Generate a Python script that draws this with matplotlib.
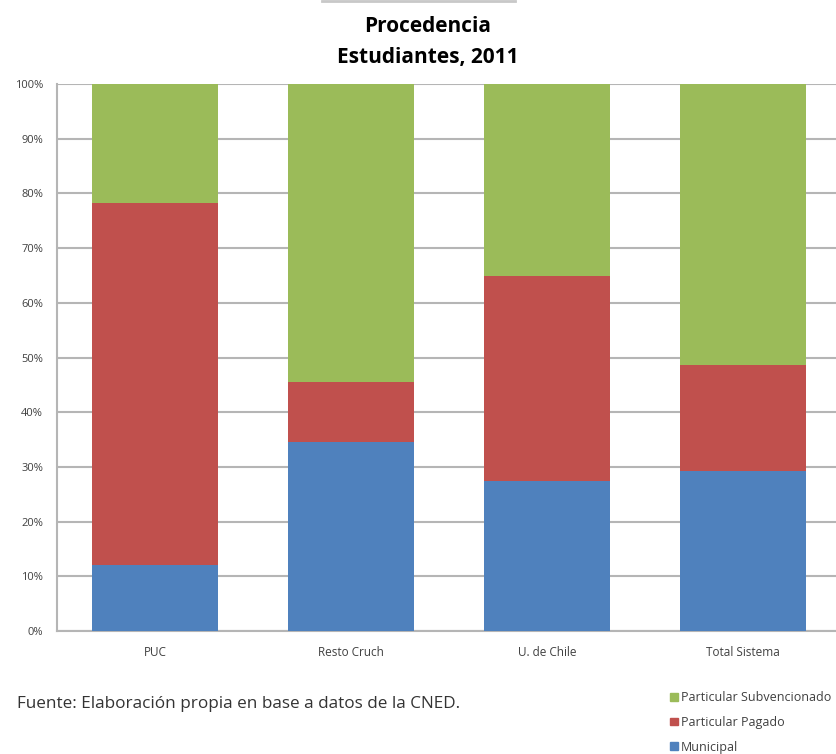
import numpy as np
import matplotlib.pyplot as plt
from matplotlib.patches import Patch

# data (percent of students by school type)
categories = ['PUC', 'Resto Cruch', 'U. de Chile', 'Total Sistema']
municipal = [12.1, 34.5, 27.5, 29.3]
pagado = [66.2, 11.1, 37.4, 19.3]
subvencionado = [21.7, 54.4, 35.1, 51.4]

c_mun = '#4F81BD'
c_pag = '#C0504D'
c_sub = '#9BBB59'

plt.rcParams['font.family'] = ['Open Sans', 'DejaVu Sans']

fig = plt.figure(figsize=(8.37, 7.54), dpi=100)
ax = fig.add_axes([57 / 837, 1 - 631 / 754, 784 / 837, 547 / 754])

x = np.arange(len(categories))
w = 0.643
bottom2 = np.array(municipal)
bottom3 = bottom2 + np.array(pagado)
ax.bar(x, municipal, w, color=c_mun, zorder=3)
ax.bar(x, pagado, w, bottom=bottom2, color=c_pag, zorder=3)
ax.bar(x, subvencionado, w, bottom=bottom3, color=c_sub, zorder=3)

ax.set_xlim(-0.5, 3.5)
ax.set_ylim(0, 100)
ax.set_yticks(np.arange(0, 101, 10))
ax.set_yticklabels([f'{v}%' for v in range(0, 101, 10)], fontsize=8, color='#404040')
ax.set_xticks(x)
ax.set_xticklabels(categories, fontsize=8.5, color='#404040')
ax.tick_params(axis='both', length=0, pad=10)
ax.tick_params(axis='x', pad=11)
ax.yaxis.grid(True, color='#b5b5b5', linewidth=1.5, zorder=0)
for s in ['top', 'right']:
    ax.spines[s].set_visible(False)
ax.spines['left'].set_color('#b5b5b5')
ax.spines['bottom'].set_color('#b5b5b5')
ax.spines['left'].set_linewidth(1.5)
ax.spines['bottom'].set_linewidth(1.5)

fig.text(428 / 837, 1 - 27 / 754, 'Procedencia', ha='center', va='center',
         fontsize=15, fontweight='bold')
fig.text(428 / 837, 1 - 57 / 754, 'Estudiantes, 2011', ha='center', va='center',
         fontsize=15, fontweight='bold')
fig.add_artist(plt.Line2D([322 / 837, 515 / 837], [1 - 1 / 754, 1 - 1 / 754],
                          color='#c8c8c8', linewidth=2))

fig.text(17 / 837, 1 - 704 / 754, 'Fuente: Elaboración propia en base a datos de la CNED.',
         ha='left', va='center', fontsize=12.3, color='#333333')

handles = [Patch(color=c_sub, label='Particular Subvencionado'),
           Patch(color=c_pag, label='Particular Pagado'),
           Patch(color=c_mun, label='Municipal')]
fig.legend(handles=handles, loc='upper left', bbox_to_anchor=(670 / 837, 1 - 691 / 754),
           frameon=False, fontsize=9, handlelength=0.6, handleheight=0.6,
           handletextpad=0.3, labelspacing=0.95, borderaxespad=0, borderpad=0,
           labelcolor='#404040')

fig.savefig('out.png', dpi=100)
